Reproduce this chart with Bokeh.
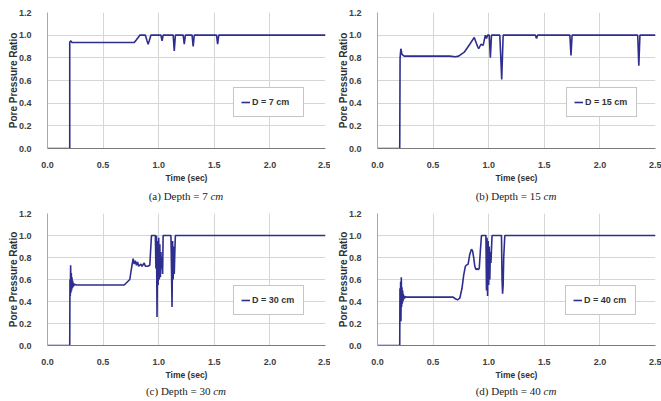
from bokeh.plotting import figure
from bokeh.models import Legend, LegendItem, Range1d, PrintfTickFormatter, FixedTicker, Div
from bokeh.layouts import column, row
from bokeh.embed import file_html
from bokeh.resources import INLINE

X_TICKS = [0.0, 0.5, 1.0, 1.5, 2.0, 2.5]
Y_TICKS = [0.0, 0.2, 0.4, 0.6, 0.8, 1.0, 1.2]

# (a) D = 7 cm
time_7 = [0.0, 0.20, 0.20, 0.21, 0.22, 0.78, 0.80, 0.83, 0.88, 0.895, 0.905, 0.915, 0.93,
          1.02, 1.03, 1.04, 1.13, 1.14, 1.15, 1.22, 1.23, 1.24, 1.30, 1.31, 1.32,
          1.52, 1.53, 1.54, 2.5]
ratio_7 = [0.0, 0.0, 0.94, 0.95, 0.935, 0.935, 0.96, 1.0, 1.0, 0.95, 0.92, 0.95, 1.0,
           1.0, 0.95, 1.0, 1.0, 0.86, 1.0, 1.0, 0.92, 1.0, 1.0, 0.90, 1.0,
           1.0, 0.92, 1.0, 1.0]

# (b) D = 15 cm
time_15 = [0.0, 0.20, 0.203, 0.21, 0.22, 0.24, 0.65, 0.70, 0.73, 0.78, 0.83, 0.87, 0.90,
           0.91, 0.93, 0.95, 0.97, 0.98, 0.99, 1.005, 1.015, 1.025, 1.10, 1.117, 1.13,
           1.42, 1.43, 1.44, 1.73, 1.74, 1.75, 2.34, 2.35, 2.36, 2.5]
ratio_15 = [0.0, 0.0, 0.80, 0.88, 0.83, 0.815, 0.815, 0.81, 0.815, 0.85, 0.92, 0.98, 0.90,
            0.88, 0.92, 0.91, 1.0, 0.97, 1.0, 1.0, 0.80, 1.0, 1.0, 0.61, 1.0,
            1.0, 0.97, 1.0, 1.0, 0.82, 1.0, 1.0, 0.73, 1.0, 1.0]

# (c) D = 30 cm
time_30 = [0.0, 0.20, 0.202, 0.205, 0.208, 0.211, 0.214, 0.217, 0.220, 0.223, 0.226, 0.229,
           0.232, 0.236, 0.240, 0.245, 0.25, 0.26, 0.69, 0.74, 0.755, 0.77, 0.78, 0.79,
           0.80, 0.81, 0.82, 0.84, 0.85, 0.87, 0.88, 0.90, 0.92, 0.935, 0.97, 0.975,
           0.98, 0.985, 0.99, 0.995, 1.0, 1.005, 1.01, 1.015, 1.02, 1.025, 1.03, 1.035,
           1.04, 1.11, 1.115, 1.12, 1.125, 1.13, 1.135, 1.14, 1.145, 1.15, 2.5]
ratio_30 = [0.0, 0.0, 0.60, 0.45, 0.73, 0.48, 0.66, 0.50, 0.62, 0.52, 0.59, 0.53,
            0.57, 0.54, 0.56, 0.55, 0.555, 0.55, 0.55, 0.60, 0.70, 0.79, 0.74, 0.77,
            0.73, 0.76, 0.72, 0.74, 0.72, 0.75, 0.72, 0.72, 0.73, 1.0, 1.0, 0.70,
            1.0, 0.26, 0.95, 0.55, 0.98, 0.60, 0.92, 0.62, 0.85, 0.70, 0.80, 0.65,
            1.0, 1.0, 0.70, 0.35, 0.95, 0.60, 0.90, 0.65, 0.85, 1.0, 1.0]

# (d) D = 40 cm
time_40 = [0.0, 0.20, 0.202, 0.205, 0.208, 0.211, 0.214, 0.217, 0.22, 0.223, 0.226, 0.229,
           0.232, 0.236, 0.24, 0.245, 0.25, 0.26, 0.68, 0.70, 0.72, 0.74, 0.76, 0.775,
           0.79, 0.80, 0.815, 0.83, 0.845, 0.855, 0.865, 0.875, 0.885, 0.895, 0.905, 0.915,
           0.925, 0.935, 0.975, 0.98, 0.985, 0.99, 0.995, 1.0, 1.005, 1.01, 1.015, 1.02,
           1.03, 1.115, 1.12, 1.125, 1.13, 1.135, 1.14, 1.145, 2.5]
ratio_40 = [0.0, 0.0, 0.52, 0.30, 0.58, 0.22, 0.62, 0.35, 0.53, 0.38, 0.50, 0.40,
            0.47, 0.42, 0.45, 0.43, 0.445, 0.44, 0.44, 0.425, 0.415, 0.43, 0.52, 0.64,
            0.72, 0.73, 0.74, 0.83, 0.875, 0.86, 0.80, 0.72, 0.69, 0.70, 0.69, 0.70,
            0.86, 1.0, 1.0, 0.50, 0.98, 0.45, 0.95, 0.55, 0.90, 0.60, 0.85, 0.75,
            1.0, 1.0, 0.60, 0.47, 0.55, 0.80, 0.90, 1.0, 1.0]

legend_labels = ["D = 7 cm", "D = 15 cm", "D = 30 cm", "D = 40 cm"]
caption_main = ["(a) Depth = 7", "(b) Depth = 15", "(c) Depth = 30", "(d) Depth = 40"]
caption_unit = "cm"

LINE = "#2e2e8f"
SANS = "Liberation Sans"


def panel(t, r, leg, width, height, b_top, b_right, leg_loc):
    p = figure(width=width, height=height, x_range=Range1d(0, 2.5), y_range=Range1d(0, 1.2),
               output_backend="svg", toolbar_location=None,
               min_border_left=47, min_border_right=b_right,
               min_border_top=b_top, min_border_bottom=35)
    p.outline_line_color = None
    p.background_fill_color = "white"
    p.border_fill_color = "white"
    rend = p.line(t, r, line_color=LINE, line_width=1.6)

    p.xaxis.ticker = FixedTicker(ticks=X_TICKS)
    p.yaxis.ticker = FixedTicker(ticks=Y_TICKS)
    for ax in (p.xaxis, p.yaxis):
        ax.formatter = PrintfTickFormatter(format="%.1f")
        ax.major_tick_line_color = None
        ax.minor_tick_line_color = None
        ax.major_label_text_font = SANS
        ax.major_label_text_font_style = "bold"
        ax.major_label_text_font_size = "9px"
        ax.major_label_text_color = "#404040"
        ax.axis_label_text_font = SANS
        ax.axis_label_text_font_style = "bold"
        ax.axis_label_text_color = "#303030"
    p.xaxis.axis_line_color = "#7a7a7a"
    p.yaxis.axis_line_color = "#a8a8a8"
    p.xaxis.axis_label = "Time (sec)"
    p.xaxis.axis_label_text_font_size = "8.5px"
    p.xaxis.axis_label_standoff = 2
    p.xaxis.major_label_standoff = 7
    p.yaxis.axis_label = "Pore Pressure Ratio"
    p.yaxis.axis_label_text_font_size = "10px"
    p.yaxis.axis_label_standoff = -3
    p.yaxis.major_label_standoff = 10
    p.grid.grid_line_color = "#d6d6d6"
    p.grid.grid_line_width = 1

    legend = Legend(items=[LegendItem(label=leg, renderers=[rend])], location=leg_loc,
                    border_line_color="#8c8c8c", border_line_width=1,
                    background_fill_color="white", background_fill_alpha=1,
                    label_text_font=SANS, label_text_font_style="bold",
                    label_text_font_size="9px", label_text_color="#333333",
                    glyph_width=9, glyph_height=14, label_height=14, label_width=44,
                    label_standoff=2, padding=7, margin=0, spacing=0)
    p.add_layout(legend, "center")
    return p


def caption(main, width, height, pad_top):
    html = (f'<div style="margin-left:47px;width:278px;padding-top:{pad_top}px;text-align:center;'
            'font-family:\'Liberation Serif\',serif;font-size:11px;line-height:16px;color:#222">'
            f'{main} <i>{caption_unit}</i></div>')
    return Div(text=html, width=width, height=height, margin=0)


pa = panel(time_7, ratio_7, legend_labels[0], 330, 185, 12, 5, (186, 31))
pb = panel(time_15, ratio_15, legend_labels[1], 331, 185, 12, 6, (189, 31))
pc = panel(time_30, ratio_30, legend_labels[2], 330, 177, 8, 5, (186, 30))
pd = panel(time_40, ratio_40, legend_labels[3], 331, 177, 8, 6, (188, 30))

ca = caption(caption_main[0], 330, 20, 3)
cb = caption(caption_main[1], 331, 20, 3)
cc = caption(caption_main[2], 330, 19, 1)
cd = caption(caption_main[3], 331, 19, 1)

layout = column(row(column(pa, ca), column(pb, cb)), row(column(pc, cc), column(pd, cd)))
open("out.html", "w").write(file_html(layout, INLINE))
